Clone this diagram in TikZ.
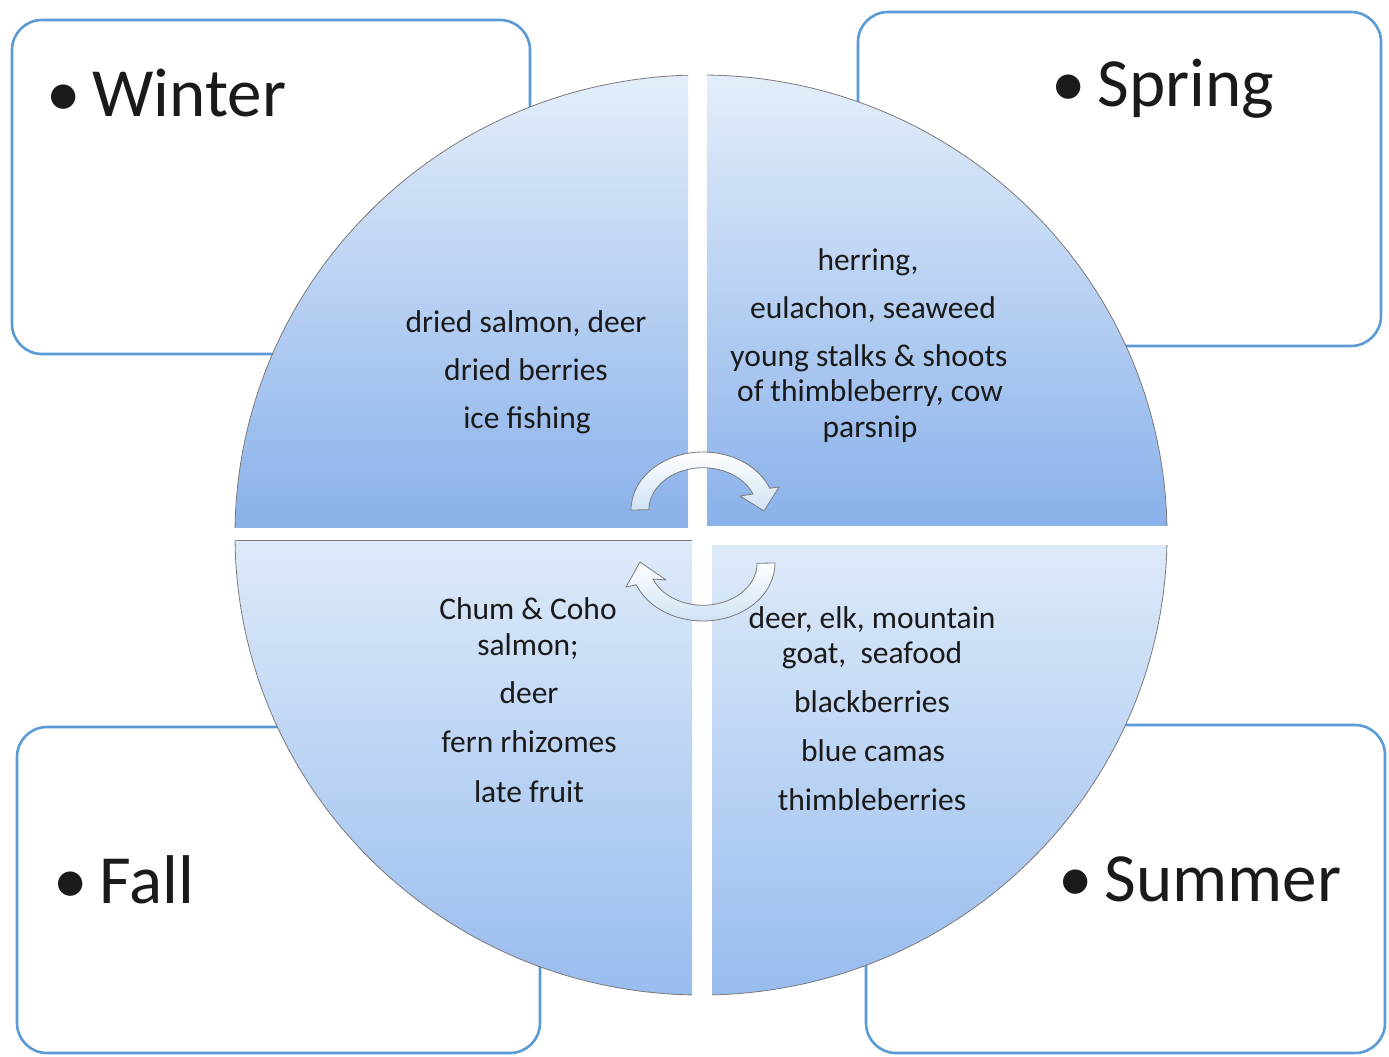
\documentclass[tikz,border=0pt]{standalone}
\usepackage{fontspec}
\setmainfont{Carlito}
\definecolor{boxblue}{HTML}{5B9BD5}
\definecolor{qTopA}{HTML}{E3EEFA}
\definecolor{qBotA}{HTML}{8AB1EA}
\definecolor{qTopB}{HTML}{DDEAF9}
\definecolor{qBotB}{HTML}{98BCEE}
\definecolor{ink}{HTML}{1A1A1A}
\definecolor{edge}{HTML}{7A7A7A}
\tikzset{
  seasonbox/.style={draw=boxblue, line width=2.6pt, fill=white, rounded corners=30pt},
  heading/.style={anchor=base west, inner sep=0pt, text=ink, font=\fontsize{69}{69}\selectfont},
  food/.style={anchor=base, inner sep=0pt, text=ink, font=\fontsize{31.5}{35}\selectfont},
  cyclearrow/.style={draw=edge, line width=0.8pt, top color=white, bottom color=qTopA!85!boxblue, line join=round},
  rim/.style={draw=edge, line width=0.8pt}
}
\begin{document}
\begin{tikzpicture}[x=1pt, y=-1pt]
\useasboundingbox (0,0) rectangle (1389,1057);
% season boxes
\draw[seasonbox] (12,20) rectangle (530,354);
\draw[seasonbox] (858,12) rectangle (1381,346);
\draw[seasonbox] (17,727) rectangle (540,1053);
\draw[seasonbox] (866,725) rectangle (1385,1053);
\node[heading] (winter) at (46,116) {•\hspace{12pt}Winter};
\node[heading] (spring) at (1051,106) {•\hspace{12pt}Spring};
\node[heading] (fall) at (53,903) {•\hspace{12pt}Fall};
\node[heading] (summer) at (1058,901) {•\hspace{12pt}Summer};
% quadrants
\begin{scope}
  \clip (200,40) rectangle (688,527);
  \begin{scope}
    \clip (701,535) ellipse[x radius=466, y radius=460];
    \shade[top color=qTopA, bottom color=qBotA] (200,75) rectangle (688,527);
  \end{scope}
  \draw[rim] (701,535) ellipse[x radius=466, y radius=460];
\end{scope}
\begin{scope}
  \clip (707,40) rectangle (1200,525);
  \begin{scope}
    \clip (701,535) ellipse[x radius=466, y radius=460];
    \shade[top color=qTopA, bottom color=qBotA] (707,75) rectangle (1200,525);
  \end{scope}
  \draw[rim] (701,535) ellipse[x radius=466, y radius=460];
\end{scope}
\begin{scope}
  \clip (200,540) rectangle (692,1020);
  \begin{scope}
    \clip (701,535) ellipse[x radius=466, y radius=460];
    \shade[top color=qTopB, bottom color=qBotB] (200,540) rectangle (692,995);
  \end{scope}
  \draw[rim] (701,535) ellipse[x radius=466, y radius=460];
  \draw[rim] (236,540) -- (692,540);
\end{scope}
\begin{scope}
  \clip (712,545) rectangle (1200,1020);
  \begin{scope}
    \clip (701,535) ellipse[x radius=466, y radius=460];
    \shade[top color=qTopB, bottom color=qBotB] (712,545) rectangle (1200,995);
  \end{scope}
  \draw[rim] (701,535) ellipse[x radius=466, y radius=460];
\end{scope}
% cycle arrows
\path[cyclearrow] (631,510) arc[start angle=180, end angle=338, x radius=72, y radius=58]
  -- (779,487) -- (764,511) -- (740,496) -- (753,494)
  arc[start angle=338, end angle=180, x radius=54, y radius=42] -- cycle;
\path[cyclearrow] (775,563) arc[start angle=0, end angle=158, x radius=72, y radius=58]
  -- (626,587) -- (640,562) -- (666,580) -- (653,579)
  arc[start angle=158, end angle=0, x radius=54, y radius=42] -- cycle;
% winter foods
\node[food] (w1) at (526,332) {dried salmon, deer};
\node[food] (w2) at (526,380) {dried berries};
\node[food] (w3) at (527,428) {ice fishing};
% spring foods
\node[food] (s1) at (868,270) {herring,};
\node[food] (s2) at (873,318) {eulachon, seaweed};
\node[food] (s3) at (869,366) {young stalks \& shoots};
\node[food] (s4) at (870,401) {of thimbleberry, cow};
\node[food] (s5) at (870,437) {parsnip};
% fall foods
\node[food] (f1) at (528,619) {Chum \& Coho};
\node[food] (f2) at (528,655) {salmon;};
\node[food] (f3) at (529,703) {deer};
\node[food] (f4) at (529,752) {fern rhizomes};
\node[food] (f5) at (529,802) {late fruit};
% summer foods
\node[food] (m1) at (872,628) {deer, elk, mountain};
\node[food] (m2) at (872,663) {goat,\ \ seafood};
\node[food] (m3) at (872,712) {blackberries};
\node[food] (m4) at (873,761) {blue camas};
\node[food] (m5) at (872,810) {thimbleberries};
\end{tikzpicture}
\end{document}
